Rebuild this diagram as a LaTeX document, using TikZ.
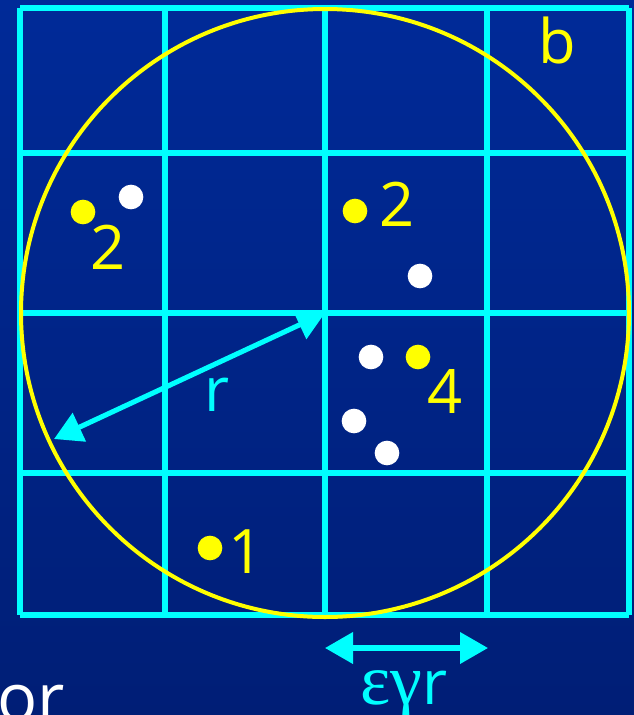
\documentclass[tikz,border=0pt]{standalone}
\usepackage{fontspec}
\setmainfont{Open Sans}
\newfontfamily\greekfont{Liberation Serif}
\usetikzlibrary{arrows.meta}
\definecolor{BgTop}{RGB}{0,42,152}
\definecolor{BgBot}{RGB}{0,30,118}
\definecolor{GCyan}{RGB}{0,255,255}
\definecolor{GYellow}{RGB}{255,255,0}

\begin{document}
\begin{tikzpicture}[
  x=0.75pt,y=-0.75pt,
  every node/.style={font=\fontsize{46}{46}\selectfont,inner sep=0pt},
  cell/.style={draw=GCyan,line width=3.8pt},
  ring/.style={draw=GYellow,line width=3pt},
  pt/.style={circle,minimum size=18.5pt},
  ydot/.style={pt,fill=GYellow},
  wdot/.style={pt,fill=white},
  count/.style={text=GYellow},
  dim/.style={{Triangle[length=21pt,width=23pt]}-{Triangle[length=21pt,width=23pt]},
    line width=3.8pt,color=GCyan}
]
  \clip (0,0) rectangle (634,715);
  \shade[top color=BgTop,bottom color=BgBot] (0,0) rectangle (634,715);

  % grid of cells
  \foreach \gx in {20,165,325,487,629}
    \draw[cell] (\gx,8) -- (\gx,615);
  \foreach \gy in {8,153,313,473,615}
    \draw[cell] (20,\gy) -- (629,\gy);

  % ball b
  \coordinate (ctr) at (325,313);
  \draw[ring] (ctr) ellipse[x radius=304,y radius=304];
  \node[count] (ball) at (557,40) {b};

  % points
  \node[ydot] (y1) at (83,212) {};
  \node[wdot] (w1) at (131,197) {};
  \node[count] (n1) at (108,247) {2};
  \node[ydot] (y2) at (355,211) {};
  \node[count] (n2) at (397,204) {2};
  \node[wdot] (w2) at (420,276) {};
  \node[wdot] (w3) at (371,357) {};
  \node[ydot] (y3) at (418,357) {};
  \node[count] (n3) at (445,391) {4};
  \node[wdot] (w4) at (354,421) {};
  \node[wdot] (w5) at (387,453) {};
  \node[ydot] (y4) at (210,548) {};
  \node[count] (n4) at (246,552) {1};

  % radius
  \coordinate (rim) at (54,439);
  \draw[dim] (ctr) -- (rim);
  \node[text=GCyan] (rlab) at (217,395) {r};

  % cell width
  \coordinate (gl) at (325,648);
  \coordinate (gr) at (488,648);
  \draw[dim] (gl) -- (gr);
  \node[text=GCyan,anchor=base] (wlab) at (404,704)
    {{\greekfont\fontsize{54}{54}\selectfont εγ}r};

  \node[text=white,anchor=base west,font=\fontsize{50}{50}\selectfont] (word) at (-3,721) {or};
\end{tikzpicture}
\end{document}
